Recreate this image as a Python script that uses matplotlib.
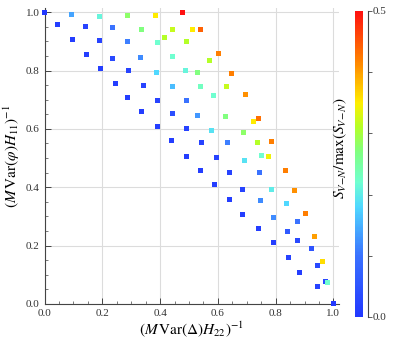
import numpy as np
import matplotlib
matplotlib.use('Agg')
import matplotlib.pyplot as plt
from matplotlib.colors import LinearSegmentedColormap
from matplotlib.ticker import MultipleLocator

plt.rcParams['font.family'] = ['Liberation Serif', 'DejaVu Serif']
plt.rcParams['mathtext.fontset'] = 'stix'

# x = (M Var(Delta) H22)^-1, y = (M Var(phi) H11)^-1, s = S_VN / max
x_vals = [0.000, 0.092, 0.191, 0.288, 0.383, 0.478, 0.045, 0.142, 0.237, 0.334,
          0.442, 0.511, 0.541, 0.417, 0.096, 0.191, 0.286, 0.392, 0.492, 0.145,
          0.237, 0.333, 0.442, 0.602, 0.572, 0.195, 0.291, 0.389, 0.487, 0.530,
          0.646, 0.246, 0.341, 0.442, 0.540, 0.630, 0.585, 0.694, 0.288, 0.391,
          0.491, 0.336, 0.442, 0.530, 0.627, 0.722, 0.742, 0.390, 0.493, 0.579,
          0.690, 0.439, 0.544, 0.634, 0.736, 0.784, 0.491, 0.595, 0.692, 0.751,
          0.775, 0.540, 0.642, 0.744, 0.835, 0.588, 0.685, 0.785, 0.866, 0.639,
          0.746, 0.837, 0.686, 0.791, 0.903, 0.739, 0.841, 0.876, 0.793, 0.874,
          0.934, 0.925, 0.844, 0.963, 0.945, 0.884, 0.971, 0.979, 0.945, 1.000]
y_vals = [1.000, 0.991, 0.986, 0.987, 0.990, 1.000, 0.957, 0.952, 0.948, 0.939,
          0.940, 0.942, 0.942, 0.914, 0.907, 0.902, 0.898, 0.895, 0.899, 0.856,
          0.842, 0.844, 0.848, 0.860, 0.836, 0.806, 0.801, 0.794, 0.799, 0.795,
          0.789, 0.756, 0.748, 0.747, 0.747, 0.744, 0.716, 0.717, 0.709, 0.698,
          0.699, 0.659, 0.652, 0.647, 0.643, 0.625, 0.634, 0.608, 0.601, 0.594,
          0.588, 0.560, 0.552, 0.554, 0.554, 0.556, 0.507, 0.503, 0.492, 0.508,
          0.506, 0.459, 0.450, 0.451, 0.457, 0.409, 0.394, 0.394, 0.389, 0.358,
          0.353, 0.346, 0.306, 0.297, 0.309, 0.259, 0.247, 0.282, 0.210, 0.218,
          0.230, 0.190, 0.158, 0.147, 0.133, 0.108, 0.078, 0.075, 0.059, 0.000]
s_vals = [0.00, 0.14, 0.21, 0.28, 0.35, 0.50, 0.01, 0.02, 0.10, 0.27,
          0.32, 0.35, 0.44, 0.31, 0.01, 0.02, 0.11, 0.22, 0.31, 0.01,
          0.03, 0.12, 0.22, 0.42, 0.31, 0.01, 0.02, 0.18, 0.21, 0.27,
          0.42, 0.01, 0.02, 0.16, 0.23, 0.32, 0.22, 0.41, 0.01, 0.02,
          0.10, 0.01, 0.04, 0.13, 0.27, 0.35, 0.43, 0.01, 0.02, 0.19,
          0.28, 0.01, 0.02, 0.11, 0.31, 0.42, 0.01, 0.02, 0.19, 0.22,
          0.34, 0.01, 0.02, 0.10, 0.42, 0.01, 0.02, 0.20, 0.41, 0.01,
          0.12, 0.18, 0.01, 0.12, 0.42, 0.01, 0.06, 0.10, 0.01, 0.03,
          0.40, 0.05, 0.02, 0.36, 0.03, 0.01, 0.03, 0.22, 0.02, 0.00]

kleur = LinearSegmentedColormap.from_list('regnbogi', [
    (0.00, '#2238ff'), (0.20, '#3a72ff'), (0.36, '#50d8ff'),
    (0.44, '#70ffd0'), (0.54, '#80ff80'), (0.62, '#b4ff28'),
    (0.70, '#ffee00'), (0.84, '#ff8000'), (1.00, '#ff1010')])

fig = plt.figure(figsize=(3.95, 3.44), dpi=100)
ax = fig.add_axes([0.1127, 0.1163, 0.746, 0.861])

sc = ax.scatter(x_vals, y_vals, c=s_vals, cmap=kleur, vmin=0, vmax=0.5,
                marker='s', s=13, linewidths=0, clip_on=False, zorder=3)

ax.set_xlim(0, 1.02)
ax.set_ylim(0, 1.015)
ax.xaxis.set_major_locator(MultipleLocator(0.2))
ax.yaxis.set_major_locator(MultipleLocator(0.2))
ax.xaxis.set_minor_locator(MultipleLocator(0.05))
ax.yaxis.set_minor_locator(MultipleLocator(0.05))
ax.xaxis.set_major_formatter(lambda v, p: f'{v:.1f}')
ax.yaxis.set_major_formatter(lambda v, p: f'{v:.1f}')
ax.grid(True, color='#dcdcdc', linewidth=0.8)
ax.set_axisbelow(True)
for side in ['top', 'right']:
    ax.spines[side].set_visible(False)
for side in ['left', 'bottom']:
    ax.spines[side].set_color('#444444')
ax.tick_params(which='major', direction='in', length=4, width=0.7,
               labelsize=8, colors='#444444', labelcolor='#333333')
ax.tick_params(which='minor', direction='in', length=2, width=0.5, colors='#444444')
ax.set_xlabel(r'$(M\,\mathrm{Var}(\Delta)H_{22})^{-1}$', fontsize=11, labelpad=1)
ax.set_ylabel(r'$(M\,\mathrm{Var}(\varphi)H_{11})^{-1}$', fontsize=11, labelpad=3)

cax = fig.add_axes([0.899, 0.0785, 0.021, 0.890])
cb = fig.colorbar(sc, cax=cax)
cb.outline.set_visible(False)
cb.set_ticks([0.0, 0.1, 0.2, 0.3, 0.4, 0.5])
cb.set_ticklabels(['0.0', '', '', '', '', '0.5'])
cax.tick_params(direction='out', length=3, width=0.6, labelsize=8,
                colors='#444444', labelcolor='#333333', pad=1)
cax.spines['right'].set_visible(True)
cax.spines['right'].set_position(('outward', 3))
cax.spines['right'].set_color('#444444')
cax.yaxis.set_label_position('left')
cax.set_ylabel(r'$S_{V\!-\!N}/\max(S_{V\!-\!N})$', fontsize=11, labelpad=0)
cax.yaxis.set_label_coords(-0.75, 0.55)

plt.savefig('out.png', dpi=100)
